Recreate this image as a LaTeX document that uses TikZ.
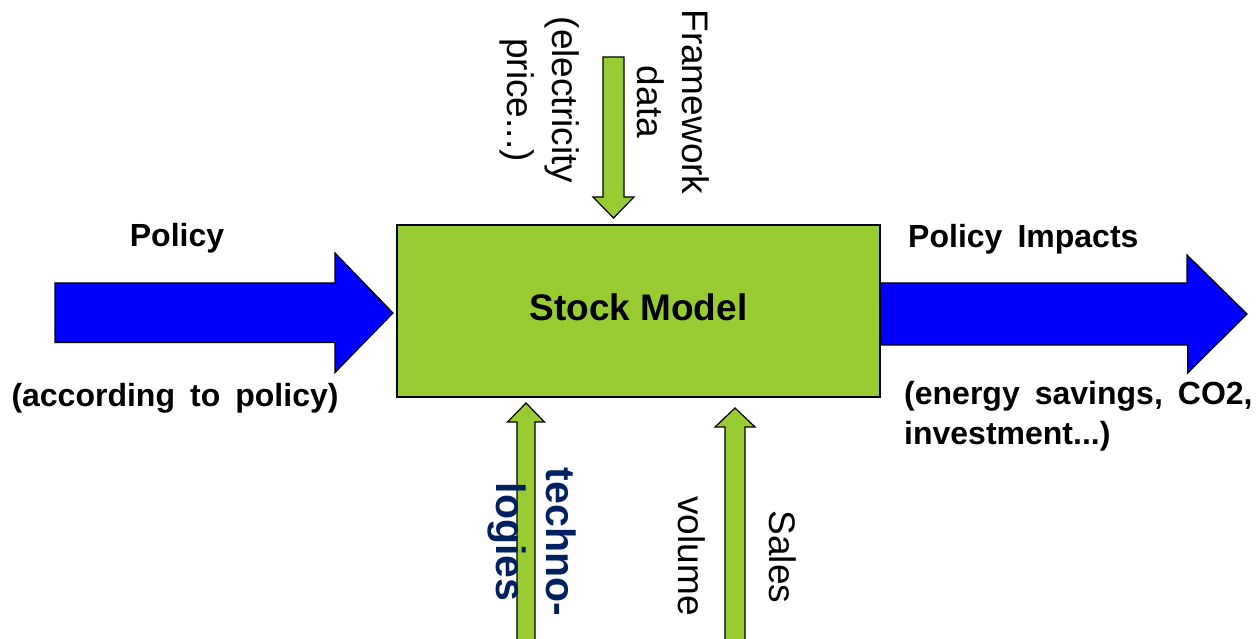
\documentclass[tikz,border=0pt]{standalone}
\usepackage{fontspec}
\setmainfont{Liberation Sans}
\usetikzlibrary{positioning}
\definecolor{stockgreen}{RGB}{153,204,51}
\definecolor{flowblue}{RGB}{0,0,255}
\definecolor{technoblue}{RGB}{0,32,96}
\newcommand\wordgap{\spaceskip=.47em\relax}

\begin{document}
\begin{tikzpicture}[
  bluearrow/.style={draw=black, line width=1.2pt, fill=flowblue},
  greenarrow/.style={draw=black, line width=1.2pt, fill=stockgreen},
  boldlabel/.style={font=\fontsize{32}{40}\selectfont\bfseries\wordgap, inner sep=0pt},
  sidelabel/.style={font=\fontsize{37}{45}\selectfont, inner sep=0pt, rotate=-90, align=center},
]
  \useasboundingbox (0pt,0pt) rectangle (1257pt,639pt);

  \coordinate (poltip)   at (393pt,326pt);
  \coordinate (imptip)   at (1247pt,325pt);
  \coordinate (fwtip)    at (613.5pt,421pt);
  \coordinate (techtip)  at (526pt,236pt);
  \coordinate (salestip) at (735pt,231pt);

  % policy in
  \draw[bluearrow] (poltip) ++(-338pt,-29.5pt) -- ++(280pt,0) -- ++(0,-30pt) -- (poltip)
    -- ++(-58pt,60pt) -- ++(0,-30pt) -- ++(-280pt,0) -- cycle;

  % inputs from above and below
  \draw[greenarrow] (fwtip) ++(-10.5pt,161pt) -- ++(0,-140pt) -- ++(-10pt,0) -- (fwtip)
    -- ++(20.5pt,21pt) -- ++(-10pt,0) -- ++(0,140pt) -- cycle;
  \draw[greenarrow] (techtip) ++(-9pt,-256pt) -- ++(0,237pt) -- ++(-9.5pt,0) -- (techtip)
    -- ++(18.5pt,-19pt) -- ++(-9.5pt,0) -- ++(0,-237pt) -- cycle;
  \draw[greenarrow] (salestip) ++(-10pt,-251pt) -- ++(0,232pt) -- ++(-10pt,0) -- (salestip)
    -- ++(20pt,-19pt) -- ++(-10pt,0) -- ++(0,-232pt) -- cycle;

  \node[draw=black, line width=1.5pt, fill=stockgreen, minimum width=483pt, minimum height=172pt,
        text depth=8pt, font=\fontsize{37}{45}\selectfont\bfseries] (model) at (638.5pt,328pt) {Stock Model};

  % impacts out
  \draw[bluearrow] (model.east |- imptip) ++(0,-31pt) -- ++(307pt,0) -- ++(0,-28pt) -- (imptip)
    -- ++(-60pt,59pt) -- ++(0,-28pt) -- ++(-307pt,0) -- cycle;

  \node[boldlabel, anchor=base] (policy) at (177pt,392pt) {Policy};
  \node[boldlabel, anchor=base] (policynote) at (175pt,232pt) {(according to policy)};
  \node[boldlabel, anchor=base west] (impacts) at (908pt,391pt) {Policy Impacts};
  \node[boldlabel, anchor=north west, align=left] (impactnote) at (904pt,258pt)
    {(energy savings, CO2,\\investment...)};

  \node[sidelabel] (framework) at (673pt,537pt) {Framework\\data};
  \node[sidelabel] (elec) at (540pt,539pt) {(electricity\\price...)};
  \node[sidelabel, font=\fontsize{41}{50}\selectfont\bfseries, text=technoblue] (techno)
    at (532pt,97pt) {techno-\\logies};
  \node[sidelabel] (sales) at (783pt,82pt) {Sales};
  \node[sidelabel] (volume) at (692pt,83pt) {volume};
\end{tikzpicture}
\end{document}
